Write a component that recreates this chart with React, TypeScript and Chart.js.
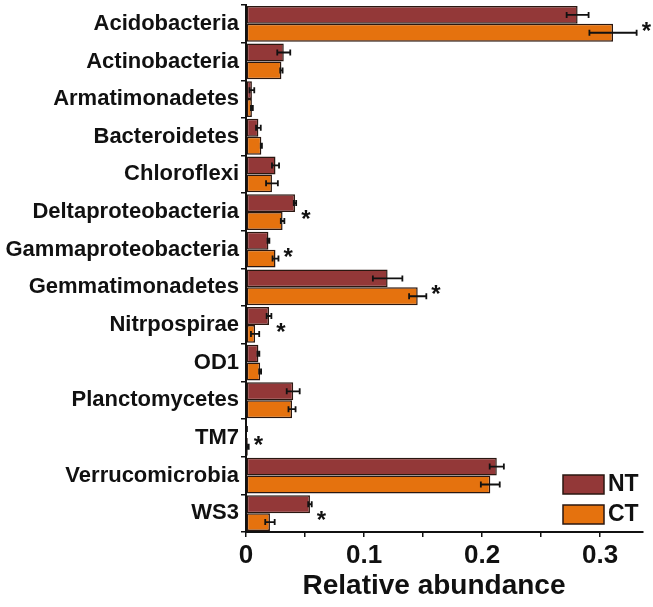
import { useEffect, useRef } from "react";
import { Chart, registerables } from "chart.js";

Chart.register(...registerables);

const categories = [
  "Acidobacteria",
  "Actinobacteria",
  "Armatimonadetes",
  "Bacteroidetes",
  "Chloroflexi",
  "Deltaproteobacteria",
  "Gammaproteobacteria",
  "Gemmatimonadetes",
  "Nitrpospirae",
  "OD1",
  "Planctomycetes",
  "TM7",
  "Verrucomicrobia",
  "WS3",
];

const ntValues = [0.281, 0.032, 0.005, 0.0105, 0.025, 0.0415, 0.019, 0.12, 0.0195, 0.0105, 0.04, 0.0005, 0.2125, 0.0542];
const ntErrors = [0.0093, 0.0055, 0.002, 0.002, 0.003, 0.001, 0.0008, 0.0125, 0.002, 0.0008, 0.0055, 0.0003, 0.006, 0.0015];
const ctValues = [0.311, 0.03, 0.005, 0.013, 0.022, 0.031, 0.025, 0.1455, 0.0077, 0.012, 0.039, 0.0015, 0.207, 0.0203];
const ctErrors = [0.02, 0.001, 0.0008, 0.0005, 0.005, 0.0015, 0.0025, 0.0073, 0.0035, 0.0008, 0.003, 0.0008, 0.008, 0.004];
const significant = [true, false, false, false, false, true, true, true, true, false, false, true, false, true];
const seriesNames = ["NT", "CT"];
const xTickLabels = ["0", "0.1", "0.2", "0.3"];
const xAxisTitle = "Relative abundance";

const NT_COLOR = "#933838";
const CT_COLOR = "#E5720E";
const EDGE = "#2a1710";
const FONT = "'Liberation Sans', Arial, sans-serif";

const errorBarPlugin = {
  id: "errorBars",
  afterDatasetsDraw(chart: any) {
    const ctx = chart.ctx;
    const xScale = chart.scales.x;
    const errs = [ntErrors, ctErrors];
    const vals = [ntValues, ctValues];
    ctx.save();
    ctx.strokeStyle = "#111";
    ctx.lineWidth = 1.8;
    chart.data.datasets.forEach((_: any, di: number) => {
      const meta = chart.getDatasetMeta(di);
      meta.data.forEach((el: any, j: number) => {
        const v = vals[di][j];
        const e = errs[di][j];
        const y = el.y;
        const x1 = xScale.getPixelForValue(Math.max(0, v - e));
        const x2 = xScale.getPixelForValue(v + e);
        ctx.beginPath();
        ctx.moveTo(x1, y);
        ctx.lineTo(x2, y);
        ctx.moveTo(x1, y - 3);
        ctx.lineTo(x1, y + 3);
        ctx.moveTo(x2, y - 3);
        ctx.lineTo(x2, y + 3);
        ctx.stroke();
      });
    });
    // significance asterisks
    const yScale = chart.scales.y;
    ctx.fillStyle = "#111";
    ctx.font = `bold 24px ${FONT}`;
    ctx.textAlign = "left";
    ctx.textBaseline = "alphabetic";
    significant.forEach((s, j) => {
      if (!s) return;
      const maxEnd = Math.max(ntValues[j] + ntErrors[j], ctValues[j] + ctErrors[j]);
      const x = xScale.getPixelForValue(maxEnd) + 5;
      const yc = yScale.getPixelForValue(j) + 1;
      ctx.fillText("*", x, yc + 14);
    });
    ctx.restore();
  },
  afterDraw(chart: any) {
    const ctx = chart.ctx;
    const area = chart.chartArea;
    const colors = [NT_COLOR, CT_COLOR];
    ctx.save();
    seriesNames.forEach((name, i) => {
      const bx = area.right - 80;
      const by = area.bottom - 57 + i * 30;
      ctx.fillStyle = colors[i];
      ctx.fillRect(bx, by, 41, 19);
      ctx.strokeStyle = EDGE;
      ctx.lineWidth = 1.5;
      ctx.strokeRect(bx, by, 41, 19);
      ctx.fillStyle = "#111";
      ctx.font = `bold 23px ${FONT}`;
      ctx.textAlign = "left";
      ctx.textBaseline = "middle";
      ctx.fillText(name, bx + 45, by + 10);
    });
    // axis title
    ctx.fillStyle = "#111";
    ctx.font = `bold 28px ${FONT}`;
    ctx.textAlign = "center";
    ctx.textBaseline = "middle";
    ctx.fillText(xAxisTitle, area.left + 188, area.bottom + 54);
    ctx.restore();
  },
};

export default function App() {
  const ref = useRef<HTMLCanvasElement>(null);
  useEffect(() => {
    if (!ref.current) return;
    const chart = new Chart(ref.current, {
      type: "bar",
      data: {
        labels: categories,
        datasets: [
          {
            label: seriesNames[0],
            data: ntValues,
            backgroundColor: NT_COLOR,
            borderColor: EDGE,
            borderWidth: 1.5,
            borderSkipped: false,
            categoryPercentage: 0.95,
            barPercentage: 1.0,
          },
          {
            label: seriesNames[1],
            data: ctValues,
            backgroundColor: CT_COLOR,
            borderColor: EDGE,
            borderWidth: 1.5,
            borderSkipped: false,
            categoryPercentage: 0.95,
            barPercentage: 1.0,
          },
        ],
      },
      options: {
        indexAxis: "y",
        responsive: false,
        animation: false,
        layout: { padding: { left: 0, right: 10, top: 5, bottom: 0 } },
        plugins: { legend: { display: false }, tooltip: { enabled: false } },
        scales: {
          y: {
            grid: {
              drawOnChartArea: false,
              drawTicks: true,
              tickLength: 5,
              color: "#111",
              lineWidth: 1.5,
              offset: true,
            },
            border: { display: true, color: "#111", width: 2 },
            ticks: {
              color: "#111",
              padding: 2,
              font: { family: FONT, size: 22, weight: "bold" },
            },
            afterFit: (s: any) => {
              s.width = 246;
              s.paddingTop = 0;
              s.paddingBottom = 0;
            },
          },
          x: {
            min: 0,
            max: 0.3364,
            grid: {
              drawOnChartArea: false,
              drawTicks: true,
              tickLength: 5,
              color: "#111",
              lineWidth: 1.5,
            },
            border: { display: true, color: "#111", width: 2 },
            ticks: {
              stepSize: 0.05,
              includeBounds: false,
              autoSkip: false,
              maxRotation: 0,
              color: "#111",
              padding: 3,
              font: { family: FONT, size: 26, weight: "bold" },
              callback: (v: any) => {
                const k = Math.round(Number(v) * 20);
                return k % 2 === 0 ? xTickLabels[k / 2] ?? "" : "";
              },
            },
            title: { display: false },
            afterFit: (s: any) => {
              s.height = 75;
              s.paddingLeft = 0;
              s.paddingRight = 0;
            },
          },
        },
      },
      plugins: [errorBarPlugin],
    } as any);
    return () => chart.destroy();
  }, []);
  return (
    <div style={{ position: "absolute", left: 0, top: 0, width: 653, height: 607, background: "#fff" }}>
      <canvas ref={ref} width={653} height={607} />
    </div>
  );
}
